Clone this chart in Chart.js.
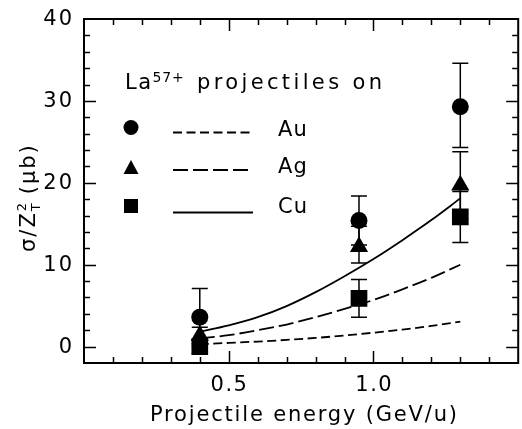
<!DOCTYPE html>
<html><head><meta charset="utf-8">
<script src="https://cdn.jsdelivr.net/npm/chart.js@4.4.0/dist/chart.umd.min.js"></script>
<style>
html,body{margin:0;padding:0;background:#fff;overflow:hidden;}
#wrap{width:530px;height:429px;}
</style></head><body>
<div id="wrap"><canvas id="c" width="530" height="429"></canvas></div>
<script>
// ---- data ----
const energies   = [0.4, 0.95, 1.3];
const auValues   = [3.6, 15.4, 29.3];
const auErrUp    = [3.5, 3.0, 5.3];
const auErrDown  = [3.5, 3.0, 5.0];
const agValues   = [1.35, 12.2, 19.7];
const agErrUp    = [1.0, 2.5, 4.1];
const agErrDown  = [1.0, 2.0, 4.1];
const cuValues   = [0.0, 5.9, 15.85];
const cuErrUp    = [0.8, 2.3, 3.1];
const cuErrDown  = [0.8, 2.3, 3.15];

const theoryEnergies = [0.4, 0.5, 0.6, 0.7, 0.8, 0.9, 1.0, 1.1, 1.2, 1.3];
const auTheory = [0.3, 0.45, 0.62, 0.82, 1.06, 1.36, 1.7, 2.08, 2.52, 3.05];
const agTheory = [1.0, 1.4, 2.0, 2.7, 3.6, 4.6, 5.7, 7.0, 8.4, 10.0];
const cuTheory = [1.83, 2.6, 3.6, 4.95, 6.65, 8.6, 10.7, 13.0, 15.45, 18.1];

const xTickValues = [0.5, 1.0];
const xTickLabels = ['0.5', '1.0'];
const yTickValues = [0, 10, 20, 30, 40];
const yTickLabels = ['0', '10', '20', '30', '40'];
const legendTitle = ['La', '57+', 'projectiles on'];
const targetNames = ['Au', 'Ag', 'Cu'];
const xTitle = 'Projectile energy (GeV/u)';

const FONT = '"DejaVu Sans", "Liberation Sans", sans-serif';

function pts(xs, ys) { return xs.map((x, i) => ({x: x, y: ys[i]})); }

function fitText(ctx, text, x, y, width) {
  ctx.letterSpacing = '0px';
  const w0 = ctx.measureText(text).width;
  const n = Math.max(1, text.length - 1);
  const ls = (width - w0) / n;
  ctx.letterSpacing = ls + 'px';
  ctx.textAlign = 'left';
  ctx.fillText(text, x, y);
  ctx.letterSpacing = '0px';
}
function spacedText(ctx, text, cx, y, spacing, align) {
  ctx.letterSpacing = spacing + 'px';
  const w = ctx.measureText(text).width - spacing;
  let x = cx;
  if (align === 'center') x = cx - w / 2;
  else if (align === 'right') x = cx - w;
  ctx.textAlign = 'left';
  ctx.fillText(text, x, y);
  ctx.letterSpacing = '0px';
  return w;
}

const errorSets = [
  {vals: auValues, up: auErrUp, down: auErrDown},
  {vals: agValues, up: agErrUp, down: agErrDown},
  {vals: cuValues, up: cuErrUp, down: cuErrDown}
];

const framePlugin = {
  id: 'frame',
  beforeDatasetsDraw(chart) {
    const ctx = chart.ctx, xs = chart.scales.x, ys = chart.scales.y;
    ctx.save();
    ctx.strokeStyle = '#000';
    ctx.lineWidth = 1.5;
    errorSets.forEach(s => {
      energies.forEach((e, i) => {
        const px = xs.getPixelForValue(e);
        const top = ys.getPixelForValue(s.vals[i] + s.up[i]);
        const bot = ys.getPixelForValue(s.vals[i] - s.down[i]);
        ctx.beginPath();
        ctx.moveTo(px, top); ctx.lineTo(px, bot);
        ctx.moveTo(px - 8, top); ctx.lineTo(px + 8, top);
        ctx.moveTo(px - 8, bot); ctx.lineTo(px + 8, bot);
        ctx.stroke();
      });
    });
    ctx.restore();
  },
  afterDraw(chart) {
    const ctx = chart.ctx, a = chart.chartArea, xs = chart.scales.x, ys = chart.scales.y;
    ctx.save();
    ctx.strokeStyle = '#000';
    ctx.fillStyle = '#000';
    // frame
    ctx.lineWidth = 2;
    ctx.strokeRect(a.left, a.top, a.right - a.left, a.bottom - a.top);
    // ticks
    ctx.lineWidth = 1.5;
    ctx.beginPath();
    for (let v = 0.1; v < 1.5 - 1e-6; v += 0.1) {
      const px = Math.round(xs.getPixelForValue(v)) + 0.5;
      const major = Math.abs(v - 0.5) < 1e-6 || Math.abs(v - 1.0) < 1e-6;
      const L = major ? 12 : 6;
      ctx.moveTo(px, a.bottom); ctx.lineTo(px, a.bottom - L);
      ctx.moveTo(px, a.top); ctx.lineTo(px, a.top + L);
    }
    for (let v = 0; v < 40; v += 2) {
      const py = Math.round(ys.getPixelForValue(v)) + 0.5;
      const major = v % 10 === 0;
      const L = major ? 12 : 6;
      ctx.moveTo(a.left, py); ctx.lineTo(a.left + L, py);
      ctx.moveTo(a.right, py); ctx.lineTo(a.right - L, py);
    }
    ctx.stroke();
    // tick labels
    ctx.font = '21px ' + FONT;
    ctx.textBaseline = 'alphabetic';
    xTickValues.forEach((v, i) => {
      spacedText(ctx, xTickLabels[i], xs.getPixelForValue(v), 390.5, 1.5, 'center');
    });
    ctx.textBaseline = 'middle';
    yTickValues.forEach((v, i) => {
      spacedText(ctx, yTickLabels[i], 72, ys.getPixelForValue(v) + 1, 2, 'right');
    });
    // x title
    ctx.textBaseline = 'alphabetic';
    ctx.font = '21px ' + FONT;
    fitText(ctx, xTitle, 150, 421, 307);
    // y title (rotated)
    ctx.save();
    ctx.translate(35, 252);
    ctx.rotate(-Math.PI / 2);
    ctx.textBaseline = 'alphabetic';
    ctx.font = '21px ' + FONT;
    ctx.letterSpacing = '2px';
    let x = 0;
    ctx.fillText('\u03c3/Z', x, 0);
    x += ctx.measureText('\u03c3/Z').width;
    ctx.font = '13px ' + FONT;
    ctx.fillText('2', x, -9);
    ctx.fillText('T', x, 5);
    x += ctx.measureText('T').width + 7;
    ctx.font = '21px ' + FONT;
    ctx.fillText('(\u03bcb)', x, 0);
    ctx.restore();
    ctx.letterSpacing = '0px';
    // legend title
    ctx.font = '21px ' + FONT;
    const wLa = spacedText(ctx, legendTitle[0], 125, 88.5, 1.5, 'left');
    ctx.font = '14px ' + FONT;
    spacedText(ctx, legendTitle[1], 125 + wLa + 1.5, 82, 0.8, 'left');
    ctx.font = '21px ' + FONT;
    fitText(ctx, legendTitle[2], 197, 88.5, 185);
    // legend rows
    const rowsY = [132.5, 170, 212.5];
    const textY = [135.5, 173, 212.5];
    const dashes = [[9, 4.5], [15, 5], []];
    ctx.lineWidth = 1.8;
    rowsY.forEach((ry, i) => {
      ctx.setLineDash(dashes[i]);
      ctx.beginPath();
      ctx.moveTo(173, ry); ctx.lineTo(253, ry);
      ctx.stroke();
    });
    ctx.setLineDash([]);
    // markers
    ctx.beginPath(); ctx.arc(131, 127.5, 7.5, 0, Math.PI * 2); ctx.fill();
    ctx.beginPath(); ctx.moveTo(131, 160); ctx.lineTo(138.5, 174); ctx.lineTo(123.5, 174); ctx.closePath(); ctx.fill();
    ctx.fillRect(124, 199, 14, 14);
    ctx.font = '21px ' + FONT;
    targetNames.forEach((t, i) => spacedText(ctx, t, 278, textY[i], 1.2, 'left'));
    ctx.restore();
  }
};

const lineCommon = {showLine: true, pointRadius: 0, borderColor: '#000', borderWidth: 1.8, fill: false, cubicInterpolationMode: 'monotone'};
const ptCommon = {showLine: false, backgroundColor: '#000', borderColor: '#000', pointBorderWidth: 0};

new Chart(document.getElementById('c'), {
  type: 'scatter',
  data: {
    datasets: [
      Object.assign({label: 'Au theory', data: pts(theoryEnergies, auTheory), borderDash: [9, 4.5]}, lineCommon),
      Object.assign({label: 'Ag theory', data: pts(theoryEnergies, agTheory), borderDash: [15, 5]}, lineCommon),
      Object.assign({label: 'Cu theory', data: pts(theoryEnergies, cuTheory)}, lineCommon),
      Object.assign({label: 'Au', data: pts(energies, auValues), pointStyle: 'circle', pointRadius: 8.5}, ptCommon),
      Object.assign({label: 'Ag', data: pts(energies, agValues), pointStyle: 'triangle', pointRadius: 10.5}, ptCommon),
      Object.assign({label: 'Cu', data: pts(energies, cuValues), pointStyle: 'rect', pointRadius: 11.8}, ptCommon)
    ]
  },
  options: {
    responsive: false,
    animation: false,
    layout: {padding: {top: 19, right: 5, left: 0, bottom: 0}},
    plugins: {legend: {display: false}, tooltip: {enabled: false}, title: {display: false}},
    scales: {
      x: {type: 'linear', min: 0, max: 1.5, grid: {display: false}, border: {display: false},
          ticks: {display: false}, afterFit: s => { s.height = 66; }},
      y: {type: 'linear', min: -2, max: 40, grid: {display: false}, border: {display: false},
          ticks: {display: false}, afterFit: s => { s.width = 84; }}
    }
  },
  plugins: [framePlugin]
});
</script>
</body></html>
